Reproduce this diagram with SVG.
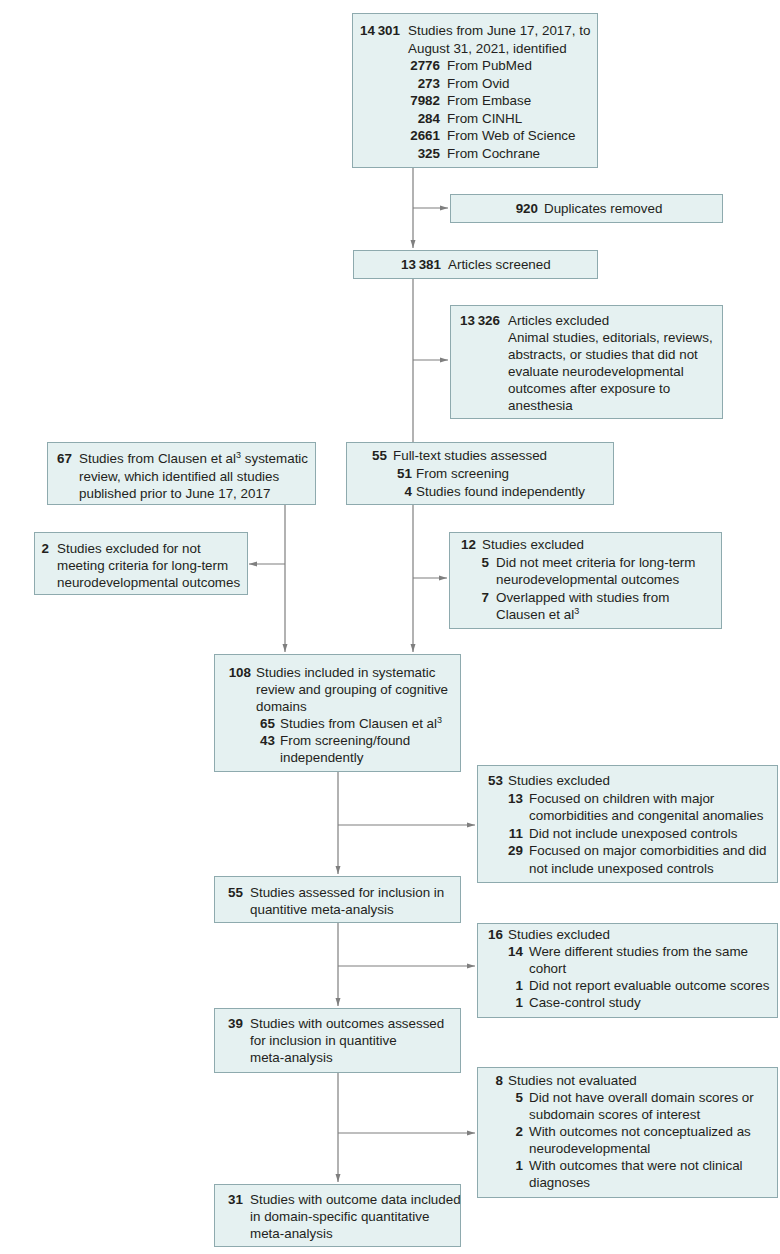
<svg xmlns="http://www.w3.org/2000/svg" width="780" height="1254" viewBox="0 0 780 1254">
<defs>
<style>
.box{fill:#e5f1f1;stroke:#8eaaae;stroke-width:1}
text{font-family:"Liberation Sans",Arial,sans-serif;font-size:13.4px;fill:#231f20}
.n{font-weight:bold;text-anchor:end}
.sup{font-size:9px}
.c{fill:none;stroke:#7f7f7f;stroke-width:1.2}
</style>
<marker id="ah" markerWidth="8" markerHeight="6" refX="8" refY="3" orient="auto" markerUnits="userSpaceOnUse">
<path d="M0,0.5 L8,3 L0,5.5 z" fill="#7f7f7f"/>
</marker>
</defs>
<rect width="780" height="1254" fill="#ffffff"/>

<g id="connectors">
<path class="c" d="M413,167 V248" marker-end="url(#ah)"/>
<path class="c" d="M413,208 H448" marker-end="url(#ah)"/>
<path class="c" d="M413,278 V442"/>
<path class="c" d="M413,360 H448" marker-end="url(#ah)"/>
<path class="c" d="M285,504 V652" marker-end="url(#ah)"/>
<path class="c" d="M285,564 H249" marker-end="url(#ah)"/>
<path class="c" d="M413,504 V652" marker-end="url(#ah)"/>
<path class="c" d="M413,578 H447" marker-end="url(#ah)"/>
<path class="c" d="M338,772 V874" marker-end="url(#ah)"/>
<path class="c" d="M338,825 H475" marker-end="url(#ah)"/>
<path class="c" d="M338,922 V1006" marker-end="url(#ah)"/>
<path class="c" d="M338,966 H475" marker-end="url(#ah)"/>
<path class="c" d="M338,1072 V1182" marker-end="url(#ah)"/>
<path class="c" d="M338,1133 H475" marker-end="url(#ah)"/>
</g>

<g id="identified">
<rect class="box" x="352.5" y="13.5" width="245" height="154"/>
<text class="n" x="400" y="35">14&#8201;301</text><text x="408" y="35">Studies from June 17, 2017, to</text>
<text x="408" y="52.5">August 31, 2021, identified</text>
<text class="n" x="440" y="70">2776</text><text x="447" y="70">From PubMed</text>
<text class="n" x="440" y="87.5">273</text><text x="447" y="87.5">From Ovid</text>
<text class="n" x="440" y="105">7982</text><text x="447" y="105">From Embase</text>
<text class="n" x="440" y="122.5">284</text><text x="447" y="122.5">From CINHL</text>
<text class="n" x="440" y="140">2661</text><text x="447" y="140">From Web of Science</text>
<text class="n" x="440" y="157.5">325</text><text x="447" y="157.5">From Cochrane</text>
</g>

<g id="duplicates">
<rect class="box" x="450.5" y="194.5" width="272" height="28"/>
<text class="n" x="538" y="213">920</text><text x="544" y="213">Duplicates removed</text>
</g>

<g id="screened">
<rect class="box" x="353.5" y="250.5" width="244" height="28"/>
<text class="n" x="441" y="269">13&#8201;381</text><text x="448" y="269">Articles screened</text>
</g>

<g id="excluded1">
<rect class="box" x="450.5" y="305.5" width="272" height="113"/>
<text class="n" x="500" y="325">13&#8201;326</text><text x="508" y="325">Articles excluded</text>
<text x="508" y="342">Animal studies, editorials, reviews,</text>
<text x="508" y="359">abstracts, or studies that did not</text>
<text x="508" y="376">evaluate neurodevelopmental</text>
<text x="508" y="393">outcomes after exposure to</text>
<text x="508" y="410">anesthesia</text>
</g>

<g id="clausen">
<rect class="box" x="47.5" y="442.5" width="268" height="62"/>
<text class="n" x="72" y="463">67</text><text x="79" y="463">Studies from Clausen et al<tspan class="sup" dy="-5">3</tspan><tspan dy="5"> systematic</tspan></text>
<text x="79" y="480.5">review, which identified all studies</text>
<text x="79" y="498">published prior to June 17, 2017</text>
</g>

<g id="excluded-clausen">
<rect class="box" x="34.5" y="532.5" width="213" height="62"/>
<text class="n" x="49" y="553">2</text><text x="57" y="553">Studies excluded for not</text>
<text x="57" y="570">meeting criteria for long-term</text>
<text x="57" y="587">neurodevelopmental outcomes</text>
</g>

<g id="fulltext">
<rect class="box" x="346.5" y="442.5" width="267" height="62"/>
<text class="n" x="387" y="460">55</text><text x="393" y="460">Full-text studies assessed</text>
<text class="n" x="412" y="478">51</text><text x="416" y="478">From screening</text>
<text class="n" x="412" y="496">4</text><text x="416" y="496">Studies found independently</text>
</g>

<g id="excluded2">
<rect class="box" x="449.5" y="532.5" width="272" height="96"/>
<text class="n" x="476" y="549">12</text><text x="482" y="549">Studies excluded</text>
<text class="n" x="489" y="566.5">5</text><text x="496" y="566.5">Did not meet criteria for long-term</text>
<text x="496" y="584">neurodevelopmental outcomes</text>
<text class="n" x="489" y="601.5">7</text><text x="496" y="601.5">Overlapped with studies from</text>
<text x="496" y="619">Clausen et al<tspan class="sup" dy="-5">3</tspan></text>
</g>

<g id="included">
<rect class="box" x="214.5" y="654.5" width="246" height="117"/>
<text class="n" x="251" y="677">108</text><text x="256" y="677">Studies included in systematic</text>
<text x="256" y="694">review and grouping of cognitive</text>
<text x="256" y="710.5">domains</text>
<text class="n" x="275" y="727.5">65</text><text x="280" y="727.5">Studies from Clausen et al<tspan class="sup" dy="-5">3</tspan></text>
<text class="n" x="275" y="745">43</text><text x="280" y="745">From screening/found</text>
<text x="280" y="762">independently</text>
</g>

<g id="excluded3">
<rect class="box" x="477.5" y="765.5" width="300" height="117"/>
<text class="n" x="503" y="785">53</text><text x="508" y="785">Studies excluded</text>
<text class="n" x="523" y="802.5">13</text><text x="529" y="802.5">Focused on children with major</text>
<text x="529" y="820">comorbidities and congenital anomalies</text>
<text class="n" x="523" y="837.5">11</text><text x="529" y="837.5">Did not include unexposed controls</text>
<text class="n" x="523" y="855">29</text><text x="529" y="855">Focused on major comorbidities and did</text>
<text x="529" y="872.5">not include unexposed controls</text>
</g>

<g id="assessed">
<rect class="box" x="214.5" y="876.5" width="246" height="46"/>
<text class="n" x="243" y="897">55</text><text x="250" y="897">Studies assessed for inclusion in</text>
<text x="250" y="914">quantitive meta-analysis</text>
</g>

<g id="excluded4">
<rect class="box" x="477.5" y="923.5" width="300" height="94"/>
<text class="n" x="503" y="939">16</text><text x="508" y="939">Studies excluded</text>
<text class="n" x="523" y="956">14</text><text x="529" y="956">Were different studies from the same</text>
<text x="529" y="973">cohort</text>
<text class="n" x="523" y="990">1</text><text x="529" y="990">Did not report evaluable outcome scores</text>
<text class="n" x="523" y="1007">1</text><text x="529" y="1007">Case-control study</text>
</g>

<g id="outcomes">
<rect class="box" x="214.5" y="1008.5" width="246" height="64"/>
<text class="n" x="243" y="1028">39</text><text x="250" y="1028">Studies with outcomes assessed</text>
<text x="250" y="1045">for inclusion in quantitive</text>
<text x="250" y="1062">meta-analysis</text>
</g>

<g id="not-evaluated">
<rect class="box" x="477.5" y="1067.5" width="300" height="130"/>
<text class="n" x="503" y="1085">8</text><text x="508" y="1085">Studies not evaluated</text>
<text class="n" x="523" y="1102">5</text><text x="529" y="1102">Did not have overall domain scores or</text>
<text x="529" y="1119">subdomain scores of interest</text>
<text class="n" x="523" y="1136">2</text><text x="529" y="1136">With outcomes not conceptualized as</text>
<text x="529" y="1153">neurodevelopmental</text>
<text class="n" x="523" y="1170">1</text><text x="529" y="1170">With outcomes that were not clinical</text>
<text x="529" y="1187">diagnoses</text>
</g>

<g id="final">
<rect class="box" x="214.5" y="1184.5" width="246" height="62"/>
<text class="n" x="243" y="1204">31</text><text x="250" y="1204">Studies with outcome data included</text>
<text x="250" y="1221">in domain-specific quantitative</text>
<text x="250" y="1238">meta-analysis</text>
</g>
</svg>
